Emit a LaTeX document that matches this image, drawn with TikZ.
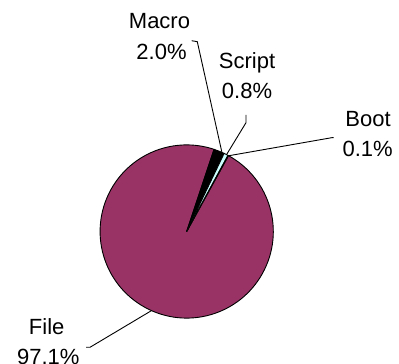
\documentclass[tikz,border=0pt]{standalone}
\usepackage{fontspec}
\setmainfont{Liberation Sans}
\definecolor{filecol}{HTML}{993366}
\definecolor{scriptcol}{HTML}{CCFFFF}
\definecolor{bootcol}{HTML}{FFFFCC}
\tikzset{
  slice/.style={draw=black, line width=0.9pt, line join=round},
  leader/.style={draw=black, line width=0.9pt},
  pct/.style={anchor=base, inner sep=0pt, font=\fontsize{22}{26}\selectfont}
}
\begin{document}
\begin{tikzpicture}[x=1pt, y=1pt]
  \useasboundingbox[fill=white] (0,0) rectangle (399,364);
  \coordinate (c) at (186.7,132.5);
  \def\R{86.6}
  % slices, clockwise from the File/Macro boundary
  \filldraw[slice, fill=filecol] (c) -- ([shift={(61.16:\R)}]c) arc[start angle=61.16, end angle=-288.4, radius=\R] -- cycle;
  \filldraw[slice, fill=black] (c) -- ([shift={(71.6:\R)}]c) arc[start angle=71.6, end angle=64.4, radius=\R] -- cycle;
  \filldraw[slice, fill=scriptcol] (c) -- ([shift={(64.4:\R)}]c) arc[start angle=64.4, end angle=61.52, radius=\R] -- cycle;
  \filldraw[slice, fill=bootcol] (c) -- ([shift={(61.52:\R)}]c) arc[start angle=61.52, end angle=61.16, radius=\R] -- cycle;

  % labels
  \node[pct] (macro) at (159.5,335.7) {Macro};
  \node[pct] (macrov) at (161.5,304.7) {2.0\%};
  \node[pct] (script) at (247,295.7) {Script};
  \node[pct] (scriptv) at (247,265.5) {0.8\%};
  \node[pct] (boot) at (368,237.3) {Boot};
  \node[pct] (bootv) at (367.7,207.3) {0.1\%};
  \node[pct] (file) at (46.7,29) {File};
  \node[pct] (filev) at (48.3,-1) {97.1\%};

  % leader lines
  \coordinate (mA) at (191.7,323.3);
  \coordinate (mB) at (197.3,322.3);
  \coordinate (mE) at ([shift={(66:\R)}]c);
  \draw[leader] (mA) -- (mB) -- (mE);
  \coordinate (sA) at (246,249);
  \coordinate (sB) at (246,241.3);
  \coordinate (sE) at ([shift={(62.6:\R)}]c);
  \draw[leader] (sA) -- (sB) -- (sE);
  \coordinate (bA) at (333.5,226.3);
  \coordinate (bB) at (331.7,226.3);
  \coordinate (bE) at ([shift={(61:\R)}]c);
  \draw[leader] (bA) -- (bB) -- (bE);
  \coordinate (fA) at (86,16.7);
  \coordinate (fB) at (90,16.7);
  \coordinate (fE) at ([shift={(-114:\R)}]c);
  \draw[leader] (fA) -- (fB) -- (fE);
\end{tikzpicture}
\end{document}
